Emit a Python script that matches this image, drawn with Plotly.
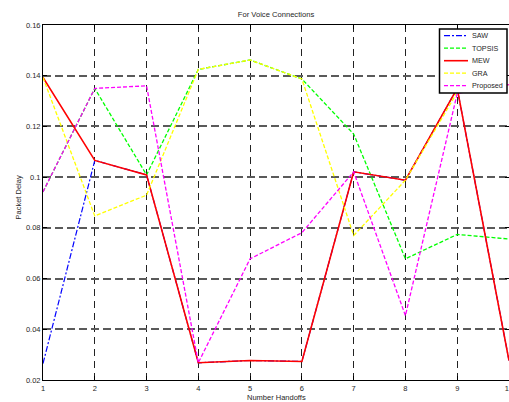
import plotly.graph_objects as go

# Handoff index on the x axis
handoffs = [1, 2, 3, 4, 5, 6, 7, 8, 9, 10]

# Packet delay per decision method
saw = [0.0265, 0.1066, 0.1009, 0.0268, 0.0277, 0.0273, 0.1021, 0.0988, 0.1350, 0.0277]
topsis = [0.0942, 0.1350, 0.1009, 0.1425, 0.1462, 0.1387, 0.1170, 0.0678, 0.0774, 0.0756]
mew = [0.1393, 0.1066, 0.1009, 0.0268, 0.0277, 0.0273, 0.1021, 0.0988, 0.1350, 0.0277]
gra = [0.1393, 0.0847, 0.0929, 0.1425, 0.1462, 0.1387, 0.0770, 0.0988, 0.1335, 0.1365]
proposed = [0.0942, 0.1350, 0.1360, 0.0268, 0.0678, 0.0781, 0.1021, 0.0454, 0.1330, 0.1365]

names = ["SAW", "TOPSIS", "MEW", "GRA", "Proposed"]
series = [saw, topsis, mew, gra, proposed]

y_ticks = [0.02, 0.04, 0.06, 0.08, 0.10, 0.12, 0.14, 0.16]
y_tick_text = ["0.02", "0.04", "0.06", "0.08", "0.1", "0.12", "0.14", "0.16"]

colors = ["#0000ff", "#00ff00", "#ff0000", "#ffff00", "#ff00ff"]
dashes = ["6px,2px,2px,2px", "4px,2px", "solid", "4px,2px", "4px,2px"]
widths = [1.2, 1.3, 1.6, 1.3, 1.3]

FIG_W, FIG_H = 509, 402
ML, MR, MT, MB = 43, 0, 25, 22
PW = FIG_W - ML - MR
PH = FIG_H - MT - MB
FONT = "Liberation Sans, Arial, Helvetica, sans-serif"
TXT = "#262626"


def fx(px):
    return (px - ML) / PW


def fy(py):
    return (MT + PH - py) / PH


fig = go.Figure()
for name, ys, c, d, w in zip(names, series, colors, dashes, widths):
    fig.add_trace(go.Scatter(x=handoffs, y=ys, mode="lines", name=name,
                             line=dict(color=c, dash=d, width=w),
                             showlegend=False))

# Boxed legend in the upper-right corner
shapes = [dict(type="rect", xref="paper", yref="paper",
               x0=fx(439.5), x1=fx(507), y0=fy(29), y1=fy(93),
               fillcolor="white", line=dict(color="black", width=1.5),
               layer="above")]
annotations = []
for i, (name, c, d, w) in enumerate(zip(names, colors, dashes, widths)):
    row_y = 35.7 + i * 12.5
    shapes.append(dict(type="line", xref="paper", yref="paper",
                       x0=fx(444), x1=fx(468), y0=fy(row_y), y1=fy(row_y),
                       line=dict(color=c, dash=d, width=w), layer="above"))
    annotations.append(dict(text=name, xref="paper", yref="paper",
                            x=fx(470), y=fy(row_y), xanchor="left",
                            yanchor="middle", showarrow=False,
                            font=dict(family=FONT, size=7.2, color=TXT)))

annotations.append(dict(text="Number Handoffs", xref="paper", yref="paper",
                        x=0.5, y=fy(397.5), xanchor="center", yanchor="middle",
                        showarrow=False,
                        font=dict(family=FONT, size=7.5, color=TXT)))
annotations.append(dict(text="Packet Delay", xref="paper", yref="paper",
                        x=fx(17.5), y=fy(198), xanchor="center",
                        yanchor="middle", textangle=-90, showarrow=False,
                        font=dict(family=FONT, size=7.5, color=TXT)))

axis_common = dict(showline=True, linecolor="black", linewidth=1,
                   mirror="ticks", ticks="inside", ticklen=4,
                   tickcolor="black", tickwidth=1,
                   showgrid=True, zeroline=False,
                   tickfont=dict(family=FONT, size=7.5, color=TXT))

fig.update_layout(
    width=FIG_W, height=FIG_H,
    margin=dict(l=ML, r=MR, t=MT, b=MB, autoexpand=False),
    paper_bgcolor="white", plot_bgcolor="white",
    title=dict(text="For Voice Connections", xref="paper", x=0.5,
               yref="container", y=1 - 14.3 / FIG_H, xanchor="center",
               yanchor="middle",
               font=dict(family=FONT, size=7.6, color=TXT)),
    xaxis=dict(range=[1, 10], tickmode="array", tickvals=handoffs,
               ticklabeloverflow="allow", ticklabelstandoff=1,
               gridcolor="#222222", gridwidth=1, griddash="7px,5px",
               **axis_common),
    yaxis=dict(range=[0.02, 0.16], tickmode="array", tickvals=y_ticks,
               ticktext=y_tick_text, ticklabelstandoff=0,
               gridcolor="#5a5a5a", gridwidth=1.5, griddash="8px,4px",
               **axis_common),
    shapes=shapes,
    annotations=annotations,
)

fig.write_html("out.html")
